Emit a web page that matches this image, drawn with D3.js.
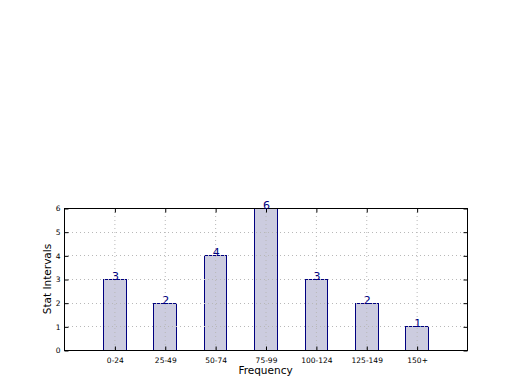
<!DOCTYPE html>
<html><head><meta charset="utf-8">
<script src="https://cdn.jsdelivr.net/npm/d3@7"></script>
<style>body{margin:0;background:#fff}svg{display:block}</style>
</head><body><svg id="c" width="520" height="390"></svg>
<script>
const categories = ["0-24","25-49","50-74","75-99","100-124","125-149","150+"];
const values = [3,2,4,6,3,2,1];
const yTicks = [0,1,2,3,4,5,6];

const svg = d3.select("#c");
const L=64, R=467, T=208, B=350;
const x = d3.scaleLinear().domain([-1,7]).range([L,R]);
const y = d3.scaleLinear().domain([0,6]).range([B,T]);
const bw = 0.45;
const font = "DejaVu Sans, sans-serif";

svg.append("rect").attr("x",0).attr("y",0).attr("width",520).attr("height",390).attr("fill","#fff");

// bars
svg.selectAll("rect.bar").data(values).join("rect").attr("class","bar")
  .attr("x",(d,i)=>Math.round(x(i-bw/2))+0.5)
  .attr("width",(d,i)=>Math.round(x(i+bw/2))-Math.round(x(i-bw/2)))
  .attr("y",d=>Math.round(y(d))+0.5)
  .attr("height",d=>Math.round(y(0))-Math.round(y(d)))
  .attr("fill","#ccccdf").attr("stroke","#000080").attr("stroke-width",1);

// grid
const g = svg.append("g");
g.selectAll("line.vg").data(categories).join("line")
  .attr("x1",(d,i)=>x(i)+0.5).attr("x2",(d,i)=>x(i)+0.5).attr("y1",T).attr("y2",B)
  .attr("stroke","#b8b8b8").attr("stroke-dasharray","1,3");
g.selectAll("line.hg").data(yTicks).join("line")
  .attr("x1",L).attr("x2",R).attr("y1",d=>Math.round(y(d))+0.5).attr("y2",d=>Math.round(y(d))+0.5)
  .attr("stroke","#b8b8b8").attr("stroke-dasharray","1,3");

// frame
svg.append("rect").attr("x",L+0.5).attr("y",T+0.5).attr("width",R-L).attr("height",B-T)
  .attr("fill","none").attr("stroke","#000").attr("stroke-width",1);

// ticks
const yAxisL = d3.axisLeft(y).tickValues(yTicks).tickSize(-4).tickPadding(4).tickFormat(d3.format("d"));
const ga = svg.append("g").attr("transform",`translate(${L+0.5},0.5)`).call(yAxisL);
ga.select(".domain").remove();
ga.selectAll("text").attr("font-family",font).attr("font-size",7.5).attr("fill","#000");
const gr = svg.append("g").attr("transform",`translate(${R+0.5},0.5)`).call(d3.axisRight(y).tickValues(yTicks).tickSize(-4).tickFormat(""));
gr.select(".domain").remove();

const xa = d3.axisBottom(x).tickValues(d3.range(categories.length)).tickSize(-4).tickPadding(7).tickFormat(i=>categories[i]);
const gx = svg.append("g").attr("transform",`translate(0.5,${B+0.5})`).call(xa);
gx.select(".domain").remove();
gx.selectAll("text").attr("font-family",font).attr("font-size",7.5).attr("fill","#000");
const gt = svg.append("g").attr("transform",`translate(0.5,${T+0.5})`).call(d3.axisTop(x).tickValues(d3.range(categories.length)).tickSize(-4).tickFormat(""));
gt.select(".domain").remove();

// value labels
svg.selectAll("text.val").data(values).join("text")
  .attr("x",(d,i)=>x(i)+1).attr("y",d=>y(d)+1)
  .attr("text-anchor","middle").attr("font-family",font).attr("font-size",11)
  .attr("fill","#000080").text(d=>d);

// axis labels
svg.append("text").attr("x",(L+R)/2).attr("y",374).attr("text-anchor","middle")
  .attr("font-family",font).attr("font-size",10.5).text("Frequency");
svg.append("text").attr("transform",`translate(51,${(T+B)/2}) rotate(-90)`).attr("text-anchor","middle")
  .attr("font-family",font).attr("font-size",10.5).text("Stat Intervals");
</script></body></html>
